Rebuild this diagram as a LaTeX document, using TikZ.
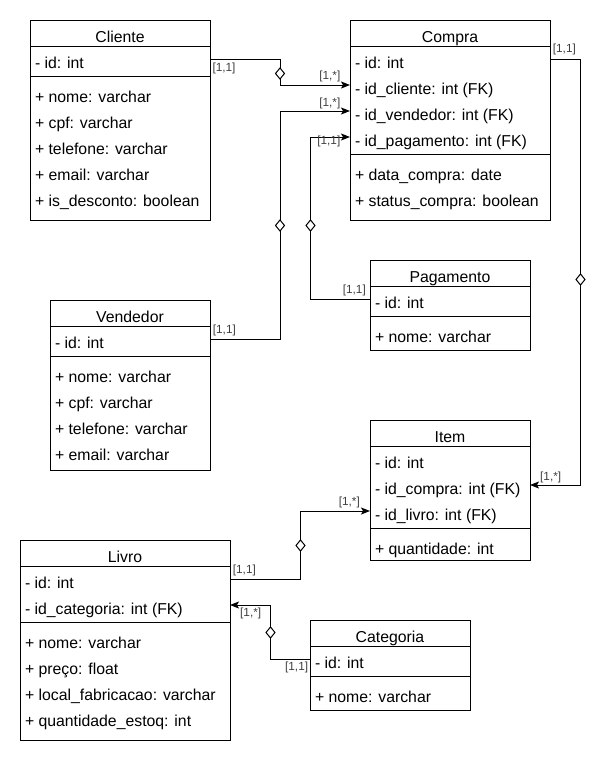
\documentclass[tikz,border=0pt]{standalone}
\usepackage{fontspec}
\setmainfont{Liberation Sans}
\usetikzlibrary{shapes.geometric,arrows.meta}
\tikzset{
 classbox/.style={draw, line width=1pt, fill=white, inner sep=0, outer sep=0, anchor=north west},
 classline/.style={line width=1pt},
 rowtext/.style={anchor=west, inner xsep=5pt, inner ysep=2pt, outer sep=0, text height=20pt, text depth=2pt, font=\fontsize{15.8}{19}\selectfont},
 dmd/.style={draw, fill=white, diamond, line width=1pt, minimum width=9pt, minimum height=11pt, inner sep=0, outer sep=0},
 conn/.style={line width=1pt},
 arr/.style={conn, -{Stealth[length=9pt,width=7pt,inset=2pt]}},
 lbl/.style={inner sep=0, text=black!75, font=\fontsize{11.8}{14}\selectfont},
}
\newcommand{\umlclass}[9]{%
 \pgfmathsetmacro{\umlw}{#4-10}%
 \node[classbox, minimum width=#4pt, minimum height=#5pt] (#1) at (#2,#3) {};
 \node[rowtext] (#1-t) at (#2,#3+13) {\makebox[\umlw pt][c]{#6}};
 \draw[classline] (#2,#3+26) -- (#2+#4,#3+26);
 \foreach \rowt [count=\i] in {#8} {\node[rowtext] (#1-a\i) at (#2,#3+13+26*\i) {\makebox[\umlw pt][l]{\rowt}};}
 \draw[classline] (#2,#3+30+26*#7) -- (#2+#4,#3+30+26*#7);
 \foreach \rowt [count=\i] in {#9} {\node[rowtext] (#1-m\i) at (#2,#3+21+26*#7+26*\i) {\makebox[\umlw pt][l]{\rowt}};}
}
\begin{document}
\begin{tikzpicture}[x=1pt, y=-1pt]
\useasboundingbox (0,0) rectangle (610,761);
\fill[white] (0,0) rectangle (610,761);

\umlclass{cliente}{30}{20}{180}{200}{Cliente}{1}{{- id: int}}{{+ nome: varchar},{+ cpf: varchar},{+ telefone: varchar},{+ email: varchar},{+ is\_desconto: boolean}}
\umlclass{compra}{350}{20}{200}{200}{Compra}{4}{{- id: int},{- id\_cliente: int (FK)},{- id\_vendedor: int (FK)},{- id\_pagamento: int (FK)}}{{+ data\_compra: date},{+ status\_compra: boolean}}
\umlclass{vendedor}{50}{300}{160}{170}{Vendedor}{1}{{- id: int}}{{+ nome: varchar},{+ cpf: varchar},{+ telefone: varchar},{+ email: varchar}}
\umlclass{pagamento}{370}{260}{160}{90}{Pagamento}{1}{{- id: int}}{{+ nome: varchar}}
\umlclass{item}{370}{420}{160}{140}{Item}{3}{{- id: int},{- id\_compra: int (FK)},{- id\_livro: int (FK)}}{{+ quantidade: int}}
\umlclass{livro}{20}{540}{210}{200}{Livro}{2}{{- id: int},{- id\_categoria: int (FK)}}{{+ nome: varchar},{+ preço: float},{+ local\_fabricacao: varchar},{+ quantidade\_estoq: int}}
\umlclass{categoria}{310}{620}{160}{90}{Categoria}{1}{{- id: int}}{{+ nome: varchar}}

\node[dmd] (d1) at (280,73.5) {};
\node[dmd] (d2) at (280,225.5) {};
\node[dmd] (d3) at (310.5,225.5) {};
\node[dmd] (d4) at (580.5,279.5) {};
\node[dmd] (d5) at (300.5,545.5) {};
\node[dmd] (d6) at (270.5,632.5) {};

\draw[conn] (cliente-a1.east) -| (d1.north);
\draw[arr] (d1.south) |- (compra-a2.west);
\draw[conn] (vendedor-a1.east) -| (d2.south);
\draw[arr] (d2.north) |- (compra-a3.west);
\draw[conn] (pagamento-a1.west) -| (d3.south);
\draw[arr] (d3.north) |- (compra-a4.west);
\draw[conn] (compra-a1.east) -| (d4.north);
\draw[arr] (d4.south) |- (item-a2.east);
\draw[conn] (livro-a1.east) -| (d5.south);
\draw[arr] (d5.north) |- (item-a3.west);
\draw[conn] (categoria-a1.west) -| (d6.south);
\draw[arr] (d6.north) |- (livro-a2.east);

\node[lbl, anchor=west] (l1) at (212.3,68) {[1,1]};
\node[lbl, anchor=east] (l2) at (340.5,76) {[1,*]};
\node[lbl, anchor=east] (l3) at (340.5,103) {[1,*]};
\node[lbl, anchor=east] (l4) at (340.5,141) {[1,1]};
\node[lbl, anchor=west] (l5) at (552.7,49) {[1,1]};
\node[lbl, anchor=west] (l6) at (212.7,330) {[1,1]};
\node[lbl, anchor=east] (l7) at (366,290) {[1,1]};
\node[lbl, anchor=west] (l8) at (540,477) {[1,*]};
\node[lbl, anchor=east] (l9) at (360,502) {[1,*]};
\node[lbl, anchor=west] (l10) at (232.7,570) {[1,1]};
\node[lbl, anchor=west] (l11) at (240,613) {[1,*]};
\node[lbl, anchor=east] (l12) at (308.3,667) {[1,1]};
\end{tikzpicture}
\end{document}
